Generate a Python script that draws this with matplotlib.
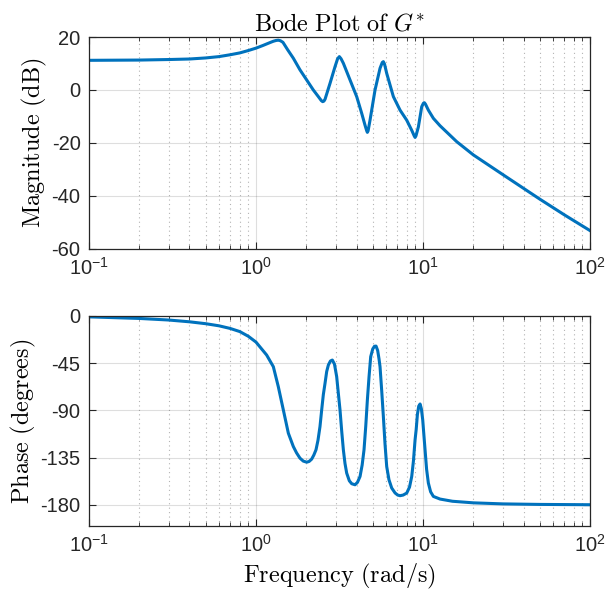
import numpy as np
import matplotlib as mpl
import matplotlib.pyplot as plt
from matplotlib.ticker import LogLocator, LogFormatterSciNotation, NullFormatter

mpl.rcParams['font.family'] = ['Liberation Sans', 'DejaVu Sans']
mpl.rcParams['mathtext.fontset'] = 'custom'
mpl.rcParams['mathtext.rm'] = 'Liberation Sans'
mpl.rcParams['mathtext.it'] = 'Liberation Sans:italic'
mpl.rcParams['axes.unicode_minus'] = False

# magnitude curve (rad/s, dB)
mag_freq = [0.1, 0.2, 0.3, 0.4, 0.5, 0.6, 0.7, 0.8, 0.9, 1.0, 1.1, 1.213, 1.27,
            1.32, 1.36, 1.40, 1.45, 1.547, 1.673, 1.834, 2.011, 2.204, 2.362, 2.46, 2.507, 2.55, 2.59,
            2.774, 2.972, 3.08, 3.155, 3.23, 3.334, 3.655, 4.007, 4.293, 4.495, 4.60, 4.642, 4.69, 4.815,
            5.159, 5.527, 5.70, 5.787, 5.88, 6.059, 6.643, 7.284, 7.985, 8.555, 8.85, 8.958, 9.07, 9.378,
            9.818, 10.05, 10.19, 10.35, 10.76, 11.53, 12.64, 15.9, 20.0, 30.3, 39.9, 50.0, 70.0, 100.0]
mag_db = [11.2, 11.3, 11.5, 11.7, 12.1, 12.6, 13.3, 14.0, 14.9, 15.8, 16.8, 17.9, 18.4,
          18.7, 18.8, 18.6, 18.0, 15.2, 12.0, 7.6, 3.8, 0.0, -2.5, -4.0, -4.4, -4.2, -3.5,
          2.5, 8.8, 11.8, 12.6, 11.8, 10.1, 3.8, -2.5, -8.8, -13.3, -15.4, -16.0, -15.4, -11.4,
          0.0, 8.2, 10.4, 10.7, 9.8, 6.3, -2.5, -7.6, -11.4, -15.2, -17.3, -17.9, -17.3, -13.9,
          -6.3, -5.0, -4.8, -5.4, -7.6, -10.7, -13.5, -19.5, -24.5, -32.1, -37.1, -41.2, -47.1, -53.1]

# phase curve (rad/s, degrees)
ph_freq = [0.1, 0.2, 0.3, 0.4, 0.5, 0.6, 0.7, 0.8, 0.9, 1.0, 1.158, 1.27, 1.36, 1.458, 1.562, 1.673,
           1.75, 1.834, 1.92, 2.011, 2.08, 2.154, 2.22, 2.287, 2.35, 2.416, 2.473, 2.53, 2.59, 2.65,
           2.712, 2.79, 2.865, 2.95, 3.041, 3.11, 3.184, 3.26, 3.334, 3.41, 3.491, 3.62, 3.741,
           3.916, 4.05, 4.196, 4.32, 4.433, 4.54, 4.642, 4.75, 4.86, 5.0, 5.12, 5.231, 5.35, 5.45,
           5.527, 5.66, 5.787, 5.92, 6.059, 6.25, 6.492, 6.8, 7.05, 7.284, 7.6, 7.985, 8.3, 8.555,
           8.76, 8.958, 9.1, 9.249, 9.42, 9.597, 9.77, 9.954, 10.1, 10.28, 10.5, 10.76, 11.1, 11.53,
           12.64, 15.0, 20.0, 30.0, 50.0, 100.0]
ph_deg = [-1.0, -2.5, -4.0, -5.7, -7.5, -9.5, -12.0, -15.0, -19.5, -25.0, -37.3, -48.4, -67.4, -89.6, -111.7, -124.4,
          -130.5, -135.5, -138.3, -139.3, -138.6, -136.4, -132.5, -127.5, -118.5, -105.4, -89.6, -75.0, -64.2, -53.0,
          -46.8, -43.0, -42.1, -46.0, -57.9, -73.5, -89.6, -110.0, -127.5, -140.5, -149.7, -157.0, -159.8,
          -160.8, -158.5, -152.9, -142.0, -127.5, -105.0, -80.1, -58.0, -38.9, -31.5, -29.0, -28.8, -33.0, -41.0,
          -48.4, -72.0, -95.9, -122.0, -143.4, -156.0, -163.9, -168.6, -170.6, -171.2, -170.6, -168.7, -163.0, -152.9,
          -138.0, -118.0, -108.0, -94.0, -86.0, -83.9, -88.5, -99.0, -112.0, -127.5, -146.0, -159.2, -167.5, -171.9,
          -174.4, -176.5, -178.0, -179.0, -179.5, -179.8]

mag_ticks = [-60, -40, -20, 0, 20]
ph_ticks = [-180, -135, -90, -45, 0]

line_color = '#0072BD'
axis_color = '#262626'


def style_axes(ax):
    ax.set_xscale('log')
    ax.set_xlim(0.1, 100)
    ax.xaxis.set_major_locator(LogLocator(base=10))
    ax.xaxis.set_major_formatter(LogFormatterSciNotation())
    ax.xaxis.set_minor_locator(LogLocator(base=10, subs=np.arange(2, 10)))
    ax.xaxis.set_minor_formatter(NullFormatter())
    ax.grid(True, which='major', color=axis_color, alpha=0.15, linewidth=0.8, linestyle='-')
    ax.grid(True, which='minor', axis='x', color=axis_color, alpha=0.35, linewidth=0.8,
            linestyle=(0, (1, 3)))
    ax.tick_params(which='both', direction='in', top=True, right=True,
                   colors=axis_color, labelsize=14.5, labelcolor='#262626')
    ax.tick_params(which='major', length=5, width=0.8, pad=6)
    ax.tick_params(which='minor', length=3, width=0.6)
    for s in ax.spines.values():
        s.set_color(axis_color)
        s.set_linewidth(0.9)
    ax.set_axisbelow(True)


fig = plt.figure(figsize=(6.09, 5.97), dpi=100)
ax1 = fig.add_axes([0.146, 0.583, 0.823, 0.355])
ax2 = fig.add_axes([0.146, 0.119, 0.823, 0.352])

ax1.plot(mag_freq, mag_db, color=line_color, linewidth=2.2, solid_joinstyle='round')
style_axes(ax1)
ax1.set_ylim(-60, 20)
ax1.set_yticks(mag_ticks)
ax1.set_ylabel(r'$\mathrm{Magnitude\ (dB)}$', math_fontfamily='cm', fontsize=17.5, labelpad=2)
ax1.set_title(r'$\mathrm{Bode\ Plot\ of\ }G^{*}$', math_fontfamily='cm', fontsize=17.5, pad=5)

ax2.plot(ph_freq, ph_deg, color=line_color, linewidth=2.2, solid_joinstyle='round')
style_axes(ax2)
ax2.set_ylim(-200, 0)
ax2.set_yticks(ph_ticks)
ax2.set_ylabel(r'$\mathrm{Phase\ (degrees)}$', math_fontfamily='cm', fontsize=17.5, labelpad=2)
ax2.set_xlabel(r'$\mathrm{Frequency\ (rad/s)}$', math_fontfamily='cm', fontsize=17.5, labelpad=4)

fig.savefig('out.png', dpi=100)
